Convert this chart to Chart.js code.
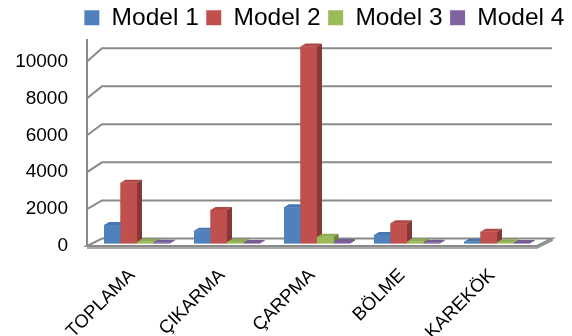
<!DOCTYPE html>
<html>
<head>
<meta charset="utf-8">
<script src="https://cdn.jsdelivr.net/npm/chart.js@4/dist/chart.umd.min.js"></script>
<style>
  html, body { margin: 0; padding: 0; background: #ffffff; }
  #wrap { width: 572px; height: 336px; }
</style>
</head>
<body>
<div id="wrap"><canvas id="chart" width="572" height="336"></canvas></div>
<script>
// Operation categories and the four models' measured values
const categories = ['TOPLAMA', 'ÇIKARMA', 'ÇARPMA', 'BÖLME', 'KAREKÖK'];
const seriesNames = ['Model 1', 'Model 2', 'Model 3', 'Model 4'];
const model1 = [970, 670, 1900, 440, 90];
const model2 = [3190, 1760, 10350, 1060, 620];
const model3 = [90, 80, 350, 100, 60];
const model4 = [40, 30, 80, 40, 30];
const yTickValues = [0, 2000, 4000, 6000, 8000, 10000];

const FONT = "'Liberation Sans', Arial, sans-serif";

// Face colours: front, top, side
const palette = [
  { front: '#4F81BD', top: '#4876AE', side: '#375A84' },
  { front: '#C0504D', top: '#B04946', side: '#863836' },
  { front: '#9BBB59', top: '#8EAC52', side: '#6C833E' },
  { front: '#8064A2', top: '#755C95', side: '#594671' }
];

// Pseudo-3D geometry (pixels): bar depth and wall offsets relative to the bar plane
const BAR_DX = 5, BAR_DY = -3;
const FRONT_DX = -5;
const BACK_DX = 10, BACK_DY = -5;
const WALL_COLOR = '#8a8a8a';

const walls3d = {
  id: 'walls3d',
  beforeDatasetsDraw(chart) {
    const { ctx, chartArea: a, scales: { y, yFront } } = chart;
    const back = v => y.getPixelForValue(v) + BACK_DY;
    const front = v => yFront.getPixelForValue(v);
    const xf = a.left + FRONT_DX, xb = a.left + BACK_DX;
    ctx.save();

    // floor
    ctx.beginPath();
    ctx.moveTo(xf, front(0));
    ctx.lineTo(a.right + FRONT_DX, front(0));
    ctx.lineTo(a.right + BACK_DX, back(0));
    ctx.lineTo(xb, back(0));
    ctx.closePath();
    ctx.fillStyle = '#ffffff';
    ctx.fill();
    ctx.strokeStyle = WALL_COLOR;
    ctx.lineWidth = 2;
    ctx.stroke();
    // floor thickness along the front and right edges
    ctx.beginPath();
    ctx.moveTo(xf, front(0) + 2);
    ctx.lineTo(a.right + FRONT_DX, front(0) + 2);
    ctx.lineTo(a.right + BACK_DX, back(0) + 2);
    ctx.lineTo(a.right + BACK_DX, back(0));
    ctx.lineWidth = 1.5;
    ctx.stroke();

    // back-wall gridlines and their left-wall diagonals
    ctx.lineWidth = 2;
    yFront.ticks.forEach(t => {
      if (t.value === 0) return;
      ctx.beginPath();
      ctx.moveTo(xf, front(t.value));
      ctx.lineTo(xb, back(t.value));
      ctx.lineTo(a.right + BACK_DX, back(t.value));
      ctx.stroke();
    });

    // vertical value axis on the front-left edge
    ctx.beginPath();
    ctx.moveTo(xf, front(0) + 1);
    ctx.lineTo(xf, y.getPixelForValue(y.max) + 3);
    ctx.stroke();
    ctx.restore();
  },
  afterDatasetsDraw(chart) {
    const { ctx } = chart;
    const bars = [];
    chart.data.datasets.forEach((ds, i) => {
      chart.getDatasetMeta(i).data.forEach(el => {
        const p = el.getProps(['x', 'y', 'base', 'width'], true);
        bars.push({ p, c: palette[i] });
      });
    });
    bars.sort((m, n) => m.p.x - n.p.x);
    ctx.save();
    bars.forEach(({ p, c }) => {
      const L = p.x - p.width / 2, R = p.x + p.width / 2;
      const T = Math.min(p.y, p.base), B = Math.max(p.y, p.base);
      // top face
      ctx.beginPath();
      ctx.moveTo(L, T);
      ctx.lineTo(R, T);
      ctx.lineTo(R + BAR_DX, T + BAR_DY);
      ctx.lineTo(L + BAR_DX, T + BAR_DY);
      ctx.closePath();
      ctx.fillStyle = c.top;
      ctx.fill();
      // right side face
      ctx.beginPath();
      ctx.moveTo(R, T);
      ctx.lineTo(R + BAR_DX, T + BAR_DY);
      ctx.lineTo(R + BAR_DX, B + BAR_DY);
      ctx.lineTo(R, B);
      ctx.closePath();
      ctx.fillStyle = c.side;
      ctx.fill();
      // front face
      ctx.fillStyle = c.front;
      ctx.fillRect(L, T, R - L, B - T);
    });
    ctx.restore();
  }
};

const seriesValues = [model1, model2, model3, model4];

new Chart(document.getElementById('chart'), {
  type: 'bar',
  data: {
    labels: categories,
    datasets: seriesNames.map((name, i) => ({
      label: name,
      data: seriesValues[i],
      yAxisID: 'y',
      backgroundColor: palette[i].front,
      borderWidth: 0,
      barPercentage: 1,
      categoryPercentage: 0.733
    }))
  },
  options: {
    responsive: false,
    animation: false,
    devicePixelRatio: 1,
    layout: { padding: { top: -2, left: 13, right: 0, bottom: 0 } },
    plugins: {
      tooltip: { enabled: false },
      legend: {
        position: 'top',
        align: 'end',
        maxHeight: 38,
        labels: {
          boxWidth: 15,
          boxHeight: 15,
          padding: 7.5,
          color: '#000000',
          font: { size: 24.5, family: FONT }
        }
      }
    },
    scales: {
      x: {
        type: 'category',
        position: 'bottom',
        grid: { display: false, drawTicks: false },
        border: { display: false },
        afterFit(scale) { scale.height = 92.5; },
        ticks: {
          autoSkip: false,
          minRotation: 45,
          maxRotation: 45,
          padding: 21,
          labelOffset: -5,
          color: '#000000',
          font: { size: 18.5, family: FONT }
        }
      },
      // value scale of the bars (mid-depth plane)
      y: {
        type: 'linear',
        display: false,
        min: 0,
        max: 10900
      },
      // value scale of the front plane, carrying the tick labels
      yFront: {
        type: 'linear',
        position: 'left',
        min: 135.5,
        max: 11382,
        grid: { display: false, drawTicks: false },
        border: { display: false },
        afterBuildTicks(scale) {
          scale.ticks = yTickValues.map(v => ({ value: v }));
        },
        afterFit(scale) { scale.width = 79; },
        ticks: {
          padding: 24,
          color: '#000000',
          font: { size: 19, family: FONT },
          callback: v => String(v)
        }
      },
      ySpace: {
        type: 'linear',
        position: 'right',
        grid: { display: false, drawTicks: false },
        border: { display: false },
        ticks: { display: false },
        afterFit(scale) { scale.width = 30; }
      }
    }
  },
  plugins: [walls3d]
});
</script>
</body>
</html>
